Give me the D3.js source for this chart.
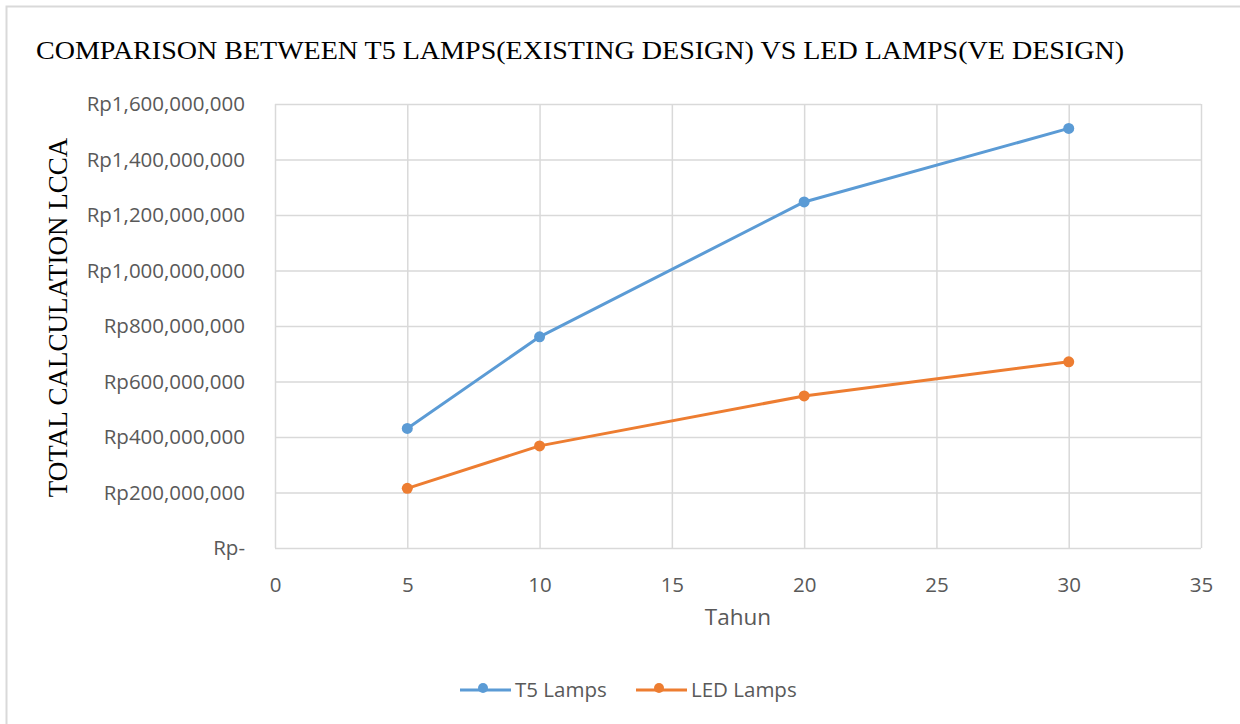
<!DOCTYPE html>
<html><head><meta charset="utf-8">
<script src="https://cdn.jsdelivr.net/npm/d3@7"></script>
<style>body{margin:0;background:#fff}svg{display:block}</style>
</head><body>
<svg id="c" width="1240" height="724"></svg>
<script>
const years = [5, 10, 20, 30];
const t5Values = [431000000, 761000000, 1247000000, 1512000000];
const ledValues = [215000000, 368000000, 548000000, 671000000];
const seriesNames = ["T5 Lamps", "LED Lamps"];
const xTicks = [0, 5, 10, 15, 20, 25, 30, 35];
const yTicks = [0, 200000000, 400000000, 600000000, 800000000, 1000000000, 1200000000, 1400000000, 1600000000];
const titleText = "COMPARISON BETWEEN T5 LAMPS(EXISTING DESIGN) VS LED LAMPS(VE DESIGN)";
const yTitle = "TOTAL CALCULATION LCCA";
const xTitle = "Tahun";

const colors = ["#5B9BD5", "#ED7D31"];
const svg = d3.select("#c");
const L = 275, R = 1201, T = 104, B = 548;
const x = d3.scaleLinear().domain([0, 35]).range([L, R]);
const y = d3.scaleLinear().domain([0, 1600000000]).range([B, T]);

// outer border
svg.append("rect").attr("x", 6.5).attr("y", 6.5).attr("width", 1260).attr("height", 760)
  .attr("fill", "#fff").attr("stroke", "#d9d9d9").attr("stroke-width", 2);

const fmt = v => v === 0 ? "Rp-" : "Rp" + d3.format(",")(v);
const labelFont = "'Open Sans', sans-serif";
const serif = "'Liberation Serif', 'Times New Roman', serif";

// grid + y axis
const yAxis = d3.axisLeft(y).tickValues(yTicks).tickSize(-(R - L)).tickFormat(fmt).tickPadding(30);
const gy = svg.append("g").attr("transform", `translate(${L},0)`).call(yAxis);
gy.select(".domain").remove();
gy.selectAll("line").attr("stroke", "#d9d9d9").attr("stroke-width", 1.5);
gy.selectAll("text").attr("fill", "#595959").style("font-family", labelFont).style("font-size", "20.5px");

// x axis
const xAxis = d3.axisBottom(x).tickValues(xTicks).tickSize(-(B - T)).tickPadding(30).tickFormat(d3.format("d"));
const gx = svg.append("g").attr("transform", `translate(0,${B})`).call(xAxis);
gx.select(".domain").remove();
gx.selectAll("line").attr("stroke", "#d9d9d9").attr("stroke-width", 1.5);
gx.selectAll("text").attr("fill", "#595959").style("font-family", labelFont).style("font-size", "20.5px")
  .attr("dy", "0").attr("y", 0).attr("transform", "translate(0,44)");

// titles
svg.append("text").attr("x", 36).attr("y", 59).text(titleText)
  .attr("textLength", 1088).attr("lengthAdjust", "spacingAndGlyphs")
  .style("font-family", serif).style("font-size", "26px").attr("fill", "#000");

svg.append("text").attr("transform", "translate(67,317.5) rotate(-90)").attr("text-anchor", "middle")
  .text(yTitle).style("font-family", serif).style("font-size", "27px").attr("fill", "#000");

svg.append("text").attr("x", 738).attr("y", 625).attr("text-anchor", "middle").text(xTitle)
  .style("font-family", labelFont).style("font-size", "22.5px").attr("fill", "#595959");

// series
const series = [t5Values, ledValues];
const line = d3.line().x((d, i) => x(years[i])).y(d => y(d));
series.forEach((vals, si) => {
  svg.append("path").datum(vals).attr("d", line).attr("fill", "none")
    .attr("stroke", colors[si]).attr("stroke-width", 3).attr("stroke-linejoin", "round");
  svg.selectAll(null).data(vals).enter().append("circle")
    .attr("cx", (d, i) => x(years[i])).attr("cy", d => y(d)).attr("r", 5.5).attr("fill", colors[si]);
});

// legend
const legX = [460, 636];
seriesNames.forEach((n, i) => {
  const g = svg.append("g").attr("transform", `translate(${legX[i]},690)`);
  g.append("line").attr("x1", 0).attr("x2", 51).attr("y1", 0).attr("y2", 0).attr("stroke", colors[i]).attr("stroke-width", 3);
  g.append("circle").attr("cx", 23).attr("cy", -2).attr("r", 5).attr("fill", colors[i]);
  g.append("text").attr("x", 55).attr("y", 7).text(n).style("font-family", labelFont).style("font-size", "20.5px").attr("fill", "#595959");
});
</script>
</body></html>
